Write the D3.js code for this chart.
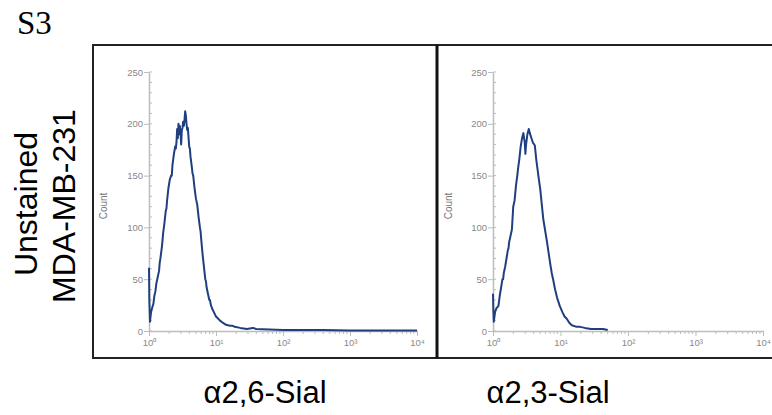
<!DOCTYPE html>
<html>
<head>
<meta charset="utf-8">
<script src="https://cdn.jsdelivr.net/npm/d3@7"></script>
<style>
  body { margin: 0; background: #fff; }
  svg { display: block; }
</style>
</head>
<body>
<div id="chart"></div>
<script>
// histogram traces: [log10 intensity, count]
var sial26 = [[0, 61], [0.005, 30], [0.015, 9], [0.03, 18], [0.05, 23], [0.065, 26], [0.08, 34], [0.095, 38],
  [0.11, 46], [0.13, 52], [0.15, 58], [0.16, 66], [0.17, 70], [0.19, 80], [0.20, 86], [0.21, 94],
  [0.23, 104], [0.25, 116], [0.26, 118], [0.27, 126], [0.29, 138], [0.31, 146], [0.33, 150], [0.34, 150],
  [0.35, 160], [0.37, 170], [0.39, 178], [0.40, 176], [0.41, 182], [0.42, 195],
  [0.43, 186], [0.44, 200], [0.45, 190], [0.46, 198], [0.47, 192], [0.48, 180], [0.49, 194], [0.50, 196],
  [0.51, 202], [0.52, 198], [0.53, 204], [0.54, 212], [0.55, 208], [0.56, 200], [0.57, 194], [0.58, 196],
  [0.60, 178], [0.61, 176], [0.62, 168], [0.64, 158], [0.65, 152], [0.66, 150], [0.68, 138], [0.70, 128],
  [0.72, 122], [0.74, 110], [0.76, 100], [0.77, 96], [0.78, 88], [0.80, 74], [0.81, 68], [0.82, 62],
  [0.84, 50], [0.85, 48], [0.86, 42], [0.88, 36], [0.90, 30], [0.91, 30], [0.92, 26], [0.94, 22],
  [0.97, 18], [1.00, 14], [1.03, 12], [1.06, 10], [1.10, 8], [1.15, 6], [1.21, 5], [1.25, 5], [1.28, 4],
  [1.36, 3], [1.46, 2], [1.55, 3], [1.6, 2], [1.8, 1.5], [2.0, 1], [2.3, 1], [2.6, 1],
  [3.0, 0.5], [3.5, 0.5], [4.0, 0.5]];

var sial23 = [[0, 36], [0.005, 20], [0.012, 9], [0.03, 18], [0.05, 22], [0.08, 24], [0.10, 34], [0.12, 42],
  [0.14, 50], [0.15, 50], [0.16, 56], [0.18, 62], [0.20, 70], [0.22, 78], [0.23, 80], [0.24, 86],
  [0.26, 92], [0.28, 98], [0.30, 120], [0.32, 126], [0.34, 140], [0.36, 150], [0.37, 156], [0.39, 166],
  [0.41, 178], [0.43, 186], [0.45, 191], [0.47, 182], [0.48, 171], [0.49, 180], [0.51, 190], [0.53, 195],
  [0.55, 190], [0.57, 186], [0.59, 182], [0.62, 179], [0.64, 166], [0.66, 156], [0.68, 146], [0.70, 137],
  [0.72, 124], [0.745, 108], [0.77, 98], [0.80, 86], [0.82, 77], [0.85, 64], [0.87, 56], [0.89, 50],
  [0.92, 40], [0.95, 32], [0.99, 24], [1.03, 18], [1.06, 14], [1.09, 12], [1.13, 8], [1.16, 6],
  [1.19, 5], [1.24, 4], [1.29, 4], [1.36, 3], [1.45, 2], [1.55, 2], [1.63, 2], [1.7, 1]];

var panelLabels = ["α2,6-Sial", "α2,3-Sial"];
var rowLabels = ["Unstained", "MDA-MB-231"];
var yTicks = [0, 50, 100, 150, 200, 250];
var xTicks = [1, 10, 100, 1000, 10000];
var xTickLabels = ["10⁰", "10¹", "10²", "10³", "10⁴"];

var W = 772, H = 415;
var svg = d3.select("#chart").append("svg")
  .attr("width", W)
  .attr("height", H);

var lineColor = "#203f7f";
var axisColor = "#bdbdbd";
var tickText = "#888";

// panel frames
svg.append("path")
  .attr("d", "M772,45 H93 V358 H772")
  .attr("fill", "none")
  .attr("stroke", "#222")
  .attr("stroke-width", 2);
svg.append("line")
  .attr("x1", 437).attr("x2", 437)
  .attr("y1", 45).attr("y2", 358)
  .attr("stroke", "#111")
  .attr("stroke-width", 3);

// figure label
svg.append("text")
  .attr("x", 17)
  .attr("y", 34)
  .style("font-family", "Liberation Serif, Times New Roman, serif")
  .style("font-size", "33px")
  .text("S3");

// row labels (rotated)
svg.append("text")
  .attr("transform", "translate(37,204) rotate(-90)")
  .attr("text-anchor", "middle")
  .style("font-family", "Liberation Sans, Arial, sans-serif")
  .style("font-size", "32px")
  .text(rowLabels[0]);
svg.append("text")
  .attr("transform", "translate(75,206) rotate(-90)")
  .attr("text-anchor", "middle")
  .style("font-family", "Liberation Sans, Arial, sans-serif")
  .style("font-size", "32px")
  .text(rowLabels[1]);

var panels = [
  { data: sial26, x0: 149, x1: 417, labelX: 265, countX: 107 },
  { data: sial23, x0: 493, x1: 763, labelX: 548, countX: 452 }
];

var y = d3.scaleLinear().domain([0, 250]).range([331, 72]);

panels.forEach(function (p, i) {
  var x = d3.scaleLog().domain([1, 10000]).range([p.x0, p.x1]);
  var g = svg.append("g");

  // minor y ticks
  g.selectAll(".ym")
    .data(d3.range(0, 251, 10))
    .enter().append("line")
    .attr("x1", p.x0).attr("x2", p.x0 + 3)
    .attr("y1", function (d) { return y(d); })
    .attr("y2", function (d) { return y(d); })
    .attr("stroke", axisColor);

  // minor x ticks
  var minors = [];
  [1, 10, 100, 1000].forEach(function (dec) {
    for (var k = 2; k <= 9; k++) minors.push(dec * k);
  });
  g.selectAll(".xm")
    .data(minors)
    .enter().append("line")
    .attr("x1", function (d) { return x(d); })
    .attr("x2", function (d) { return x(d); })
    .attr("y1", y(0)).attr("y2", y(0) + 3)
    .attr("stroke", axisColor);

  // y axis
  var ya = g.append("g")
    .attr("transform", "translate(" + p.x0 + ",0)")
    .call(d3.axisLeft(y).tickValues(yTicks).tickSize(5).tickSizeOuter(0));
  // x axis
  var xa = g.append("g")
    .attr("transform", "translate(0," + y(0) + ")")
    .call(d3.axisBottom(x).tickValues(xTicks)
      .tickFormat(function (d, j) { return xTickLabels[j]; })
      .tickSize(5).tickSizeOuter(0));

  [ya, xa].forEach(function (a) {
    a.select(".domain").attr("stroke", axisColor).attr("stroke-width", 1.5);
    a.selectAll(".tick line").attr("stroke", axisColor);
    a.selectAll(".tick text")
      .attr("fill", tickText)
      .style("font-family", "Liberation Sans, Arial, sans-serif")
      .style("font-size", "9.5px");
  });
  ya.selectAll(".tick text").attr("x", -6);
  xa.selectAll(".tick text").attr("y", 8);

  g.append("text")
    .attr("transform", "translate(" + p.countX + ",206) rotate(-90)")
    .attr("text-anchor", "middle")
    .attr("fill", "#777")
    .style("font-family", "Liberation Sans, Arial, sans-serif")
    .style("font-size", "10px")
    .text("Count");

  // histogram trace
  var line = d3.line()
    .x(function (d) { return x(Math.pow(10, d[0])); })
    .y(function (d) { return y(d[1]); });
  g.append("path")
    .datum(p.data)
    .attr("d", line)
    .attr("fill", "none")
    .attr("stroke", lineColor)
    .attr("stroke-width", 2)
    .attr("stroke-linejoin", "round");

  // panel label
  svg.append("text")
    .attr("x", p.labelX)
    .attr("y", 403)
    .attr("text-anchor", "middle")
    .style("font-family", "Liberation Sans, Arial, sans-serif")
    .style("font-size", "31px")
    .text(panelLabels[i]);
});
</script>
</body>
</html>
